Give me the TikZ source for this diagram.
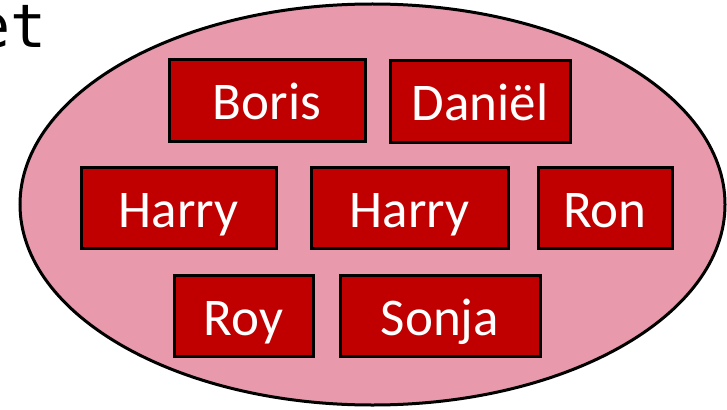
\documentclass[tikz,border=0pt]{standalone}
\usepackage{fontspec}
\setmainfont{Carlito}
\newfontfamily\monofont{DejaVu Sans Mono}
\usepackage{xcolor}
\definecolor{setpink}{RGB}{232,153,172}
\definecolor{namered}{RGB}{192,0,0}

\tikzset{
  namebox/.style={draw=black,line width=3pt,fill=namered,text=white,
    inner sep=0pt,minimum height=81pt,text height=39pt,text depth=0pt,
    font=\fontsize{53}{60}\selectfont}
}

\begin{document}
\begin{tikzpicture}[x=1pt,y=-1pt]
  \useasboundingbox (0,0) rectangle (727,409);

  % the set
  \node[anchor=base east,inner sep=0pt,font=\monofont\fontsize{60}{66}\selectfont] (label) at (47,48) {et};
  \draw[line width=3pt,fill=setpink] (372.5,204.5) ellipse [x radius=352.5,y radius=200.5];

  % members
  \node[namebox,minimum width=196pt] (Boris) at (267,100.5) {Boris};
  \node[namebox,minimum width=180pt] (Daniel) at (480,101.5) {Daniël};

  \node[namebox,minimum width=195pt] (HarryA) at (178.5,207.5) {Harry};
  \node[namebox,minimum width=197pt] (HarryB) at (409.5,207.5) {Harry};
  \node[namebox,minimum width=134pt] (Ron) at (605,208) {Ron};

  \node[namebox,minimum width=139pt] (Roy) at (243.5,316) {Roy};
  \node[namebox,minimum width=200pt] (Sonja) at (440,316) {Sonja};

\end{tikzpicture}
\end{document}
